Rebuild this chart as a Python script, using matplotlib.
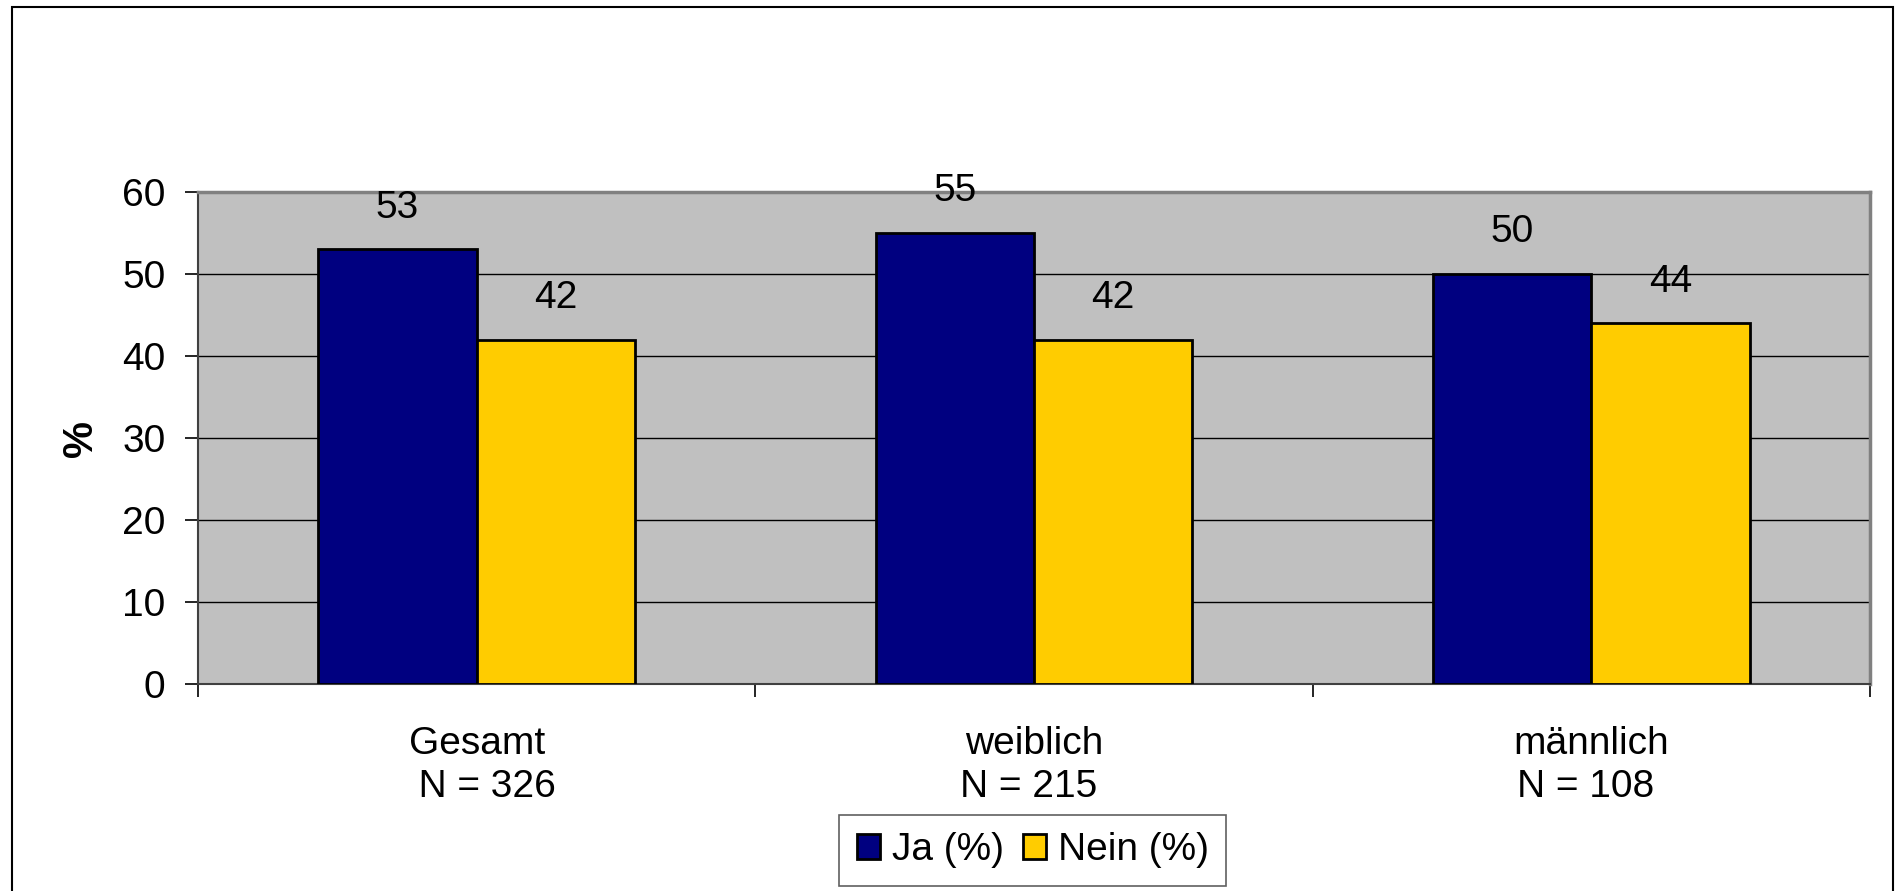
import matplotlib
matplotlib.use("Agg")
import matplotlib.pyplot as plt
from matplotlib.patches import Rectangle
import numpy as np

plt.rcParams["font.family"] = ["Liberation Sans", "DejaVu Sans"]

categories = ["Gesamt\n  N = 326", "weiblich\nN = 215 ", "männlich\nN = 108 "]
ja_values = [53, 55, 50]
nein_values = [42, 42, 44]
series_names = ["Ja (%)", "Nein (%)"]

JA_COLOR = "#000080"
NEIN_COLOR = "#FFCC00"
FONT_SIZE = 28

fig = plt.figure(figsize=(18.95, 8.91), dpi=100)
ax = fig.add_axes([0.1045, 0.2323, 0.8823, 0.5522])

x = np.arange(len(categories))
width = 0.284
bars_ja = ax.bar(x - width / 2, ja_values, width, color=JA_COLOR, edgecolor="black",
                 linewidth=2, label=series_names[0], zorder=3)
bars_nein = ax.bar(x + width / 2, nein_values, width, color=NEIN_COLOR, edgecolor="black",
                   linewidth=2, label=series_names[1], zorder=3)
ax.bar_label(bars_ja, padding=17, fontsize=FONT_SIZE)
ax.bar_label(bars_nein, padding=17, fontsize=FONT_SIZE)

ax.set_facecolor("#C0C0C0")
ax.set_xlim(-0.5, len(categories) - 0.5)
ax.set_ylim(0, 60)
ax.set_yticks(range(0, 61, 10))
ax.yaxis.grid(True, color="black", linewidth=1)
ax.set_axisbelow(True)

# category boundaries as major ticks, names as minor ticks
ax.set_xticks(np.arange(len(categories) + 1) - 0.5)
ax.set_xticklabels([])
ax.set_xticks(x, minor=True)
ax.set_xticklabels(categories, minor=True, fontsize=FONT_SIZE, linespacing=1.25)
ax.tick_params(axis="x", which="minor", length=0, pad=30)
ax.tick_params(axis="x", which="major", length=9.5, width=1.2, direction="out")
ax.tick_params(axis="y", length=9.5, width=1.2, labelsize=FONT_SIZE, pad=14)

for side in ["top", "right"]:
    ax.spines[side].set_color("#808080")
    ax.spines[side].set_linewidth(2.5)
ax.spines["left"].set_color("#404040")
ax.spines["left"].set_linewidth(1.5)
ax.spines["bottom"].set_color("#404040")
ax.spines["bottom"].set_linewidth(1.5)

ax.set_ylabel("%", fontsize=FONT_SIZE + 2, fontweight="bold", labelpad=15)

leg = fig.legend(loc="center", bbox_to_anchor=(0.545, 0.0455), ncol=2, fontsize=FONT_SIZE,
                 frameon=True, fancybox=False, framealpha=1, edgecolor="#606060",
                 handlelength=0.6, handleheight=0.6, handletextpad=0.3, columnspacing=0.5,
                 borderpad=0.45, borderaxespad=0)
leg.get_frame().set_linewidth(1.2)

# outer chart frame
fig.patches.append(Rectangle((12 / 1895, -0.05), (1893 - 12) / 1895, 1.05 - 7 / 891,
                             transform=fig.transFigure, fill=False, edgecolor="black",
                             linewidth=1.5))

fig.savefig("out.png", dpi=100)
